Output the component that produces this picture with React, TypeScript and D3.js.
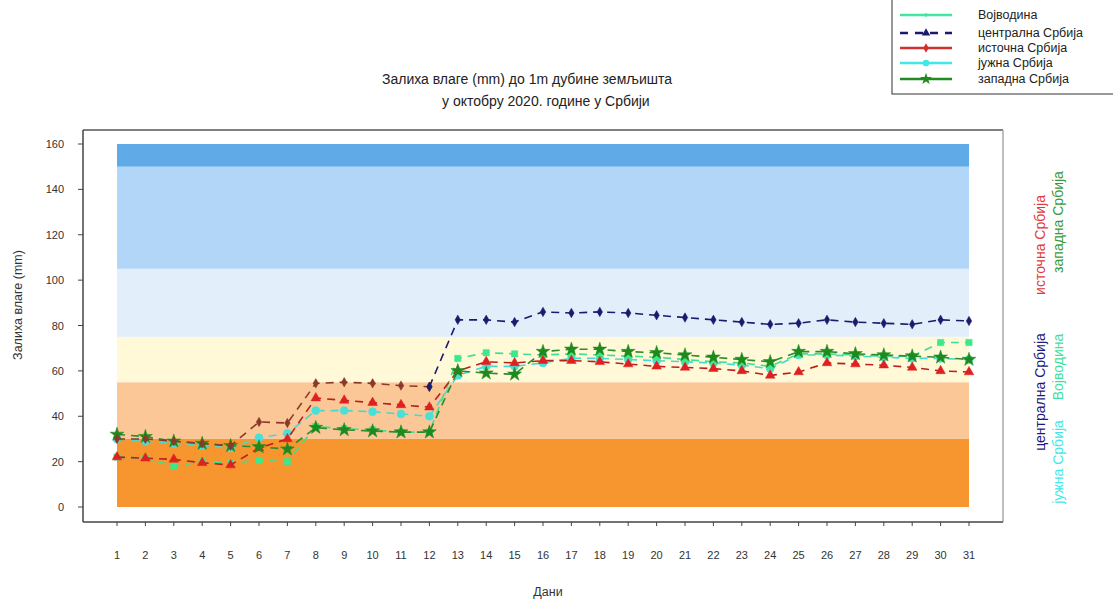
import React from "react";
import * as d3 from "d3";

const days = d3.range(1, 32);
const yTicks = [0, 20, 40, 60, 80, 100, 120, 140, 160];

const central = [30, 30, 29, 28, 27, 37.5, 37, 54.5, 55, 54.5, 53.5, 53, 82.5, 82.5, 81.5, 86, 85.5, 86, 85.5, 84.5, 83.5, 82.5, 81.5, 80.5, 81, 82.5, 81.5, 81, 80.5, 82.5, 82];
const east = [22, 21.5, 21, 19.5, 18.5, 26, 30, 48, 47, 46, 45, 44, 60, 64, 63.5, 64.5, 64.5, 64, 63, 62, 61.5, 61, 60, 58, 59.5, 63.5, 63, 62.5, 61.5, 60, 59.5];
const south = [30, 29, 28, 27, 26, 30.5, 32.5, 42.5, 42.5, 42, 41, 40, 58, 62, 62, 63.5, 65.5, 65.5, 65, 64.5, 64, 63.5, 62.5, 61, 67, 67, 66.5, 66, 65.5, 65.5, 65];
const vojvodina = [22, 21.5, 18, 20, 19.5, 20.5, 20, 35.5, 34.5, 34, 33, 33, 65.5, 68, 67.5, 67, 67.5, 67, 66.5, 66, 65, 64, 63.5, 62, 67.5, 67.5, 67, 66.5, 66.5, 72.5, 72.5];
const west = [32, 31, 29, 28, 27, 26.5, 25.5, 35, 34, 33.5, 33, 33, 60, 59, 58.5, 68.5, 69.5, 69.5, 68.5, 68, 67, 66, 65, 64, 68.5, 68.5, 67.5, 67, 66.5, 66, 65];

const bandLow = [0, 30, 55, 75, 105, 150];
const bandHigh = [30, 55, 75, 105, 150, 160];
const bandColors = ["#F7962E", "#FBC796", "#FFF9D8", "#E2EFFB", "#B2D6F7", "#60AAE8"];

const legendNames = ["Војводина", "централна Србија", "источна Србија", "јужна Србија", "западна Србија"];

const FONT = "Arial, 'Liberation Sans', sans-serif";

const x = d3.scaleLinear().domain([1, 31]).range([117, 969]);
const y = d3.scaleLinear().domain([0, 160]).range([507, 144]);

function sym(type: d3.SymbolType, size: number) {
  return d3.symbol().type(type).size(size)() as string;
}

function Series({ data, stroke, fill, type, size, from = 0, to = 31, dash = "8,6", width = 1.6 }: any) {
  const line = d3
    .line<number>()
    .x((_, i) => x(days[from + i]))
    .y((d) => y(d));
  const seg = data.slice(from, to);
  return (
    <g>
      <path d={line(seg) as string} fill="none" stroke={stroke} strokeWidth={width} strokeDasharray={dash} />
      {seg.map((v: number, i: number) => (
        <path key={i} d={sym(type, size)} transform={`translate(${x(days[from + i])},${y(v)})`} fill={fill} stroke={fill} strokeWidth={0.5} />
      ))}
    </g>
  );
}

export default function App() {
  const legendY = [15, 33, 48, 63, 79];
  const legendStyles = [
    { stroke: "#3EE8A0", dash: "", type: d3.symbolCircle, size: 10, fill: "#3EE8A0" },
    { stroke: "#1A1A6E", dash: "8,7", type: d3.symbolTriangle, size: 30, fill: "#1A1A6E" },
    { stroke: "#D03030", dash: "", type: d3.symbolDiamond, size: 25, fill: "#D03030" },
    { stroke: "#40E8E8", dash: "", type: d3.symbolCircle, size: 35, fill: "#40E8E8" },
    { stroke: "#228B22", dash: "", type: d3.symbolStar, size: 45, fill: "#228B22" },
  ];
  return (
    <svg width={1113} height={601} style={{ position: "absolute", left: 0, top: 0, background: "#fff" }} fontFamily={FONT}>
      {/* legend */}
      <rect x={892} y={-2} width={230} height={96} fill="#fff" stroke="#333" strokeWidth={1} />
      {legendNames.map((n, i) => (
        <g key={n}>
          <line x1={900} x2={952} y1={legendY[i]} y2={legendY[i]} stroke={legendStyles[i].stroke} strokeWidth={2.5} strokeDasharray={legendStyles[i].dash} />
          <path d={sym(legendStyles[i].type, legendStyles[i].size)} transform={`translate(926,${legendY[i]})`} fill={legendStyles[i].fill} />
          <text x={978} y={legendY[i] + 4} fontSize={12.5} fill="#222">{n}</text>
        </g>
      ))}

      {/* title */}
      <text x={382} y={84} fontSize={14} fill="#222">Залиха влаге (mm) до 1m дубине земљишта</text>
      <text x={442} y={106} fontSize={14} fill="#222">у октобру 2020. године у Србији</text>

      {/* frame */}
      <line x1={83} x2={1003} y1={130} y2={130} stroke="#555" strokeWidth={1.5} />
      <line x1={1003} x2={1003} y1={130} y2={522} stroke="#aaa" strokeWidth={1.5} />
      <line x1={83} x2={1003} y1={522} y2={522} stroke="#444" strokeWidth={1.5} />
      <line x1={83} x2={83} y1={130} y2={522} stroke="#444" strokeWidth={1.5} />

      {/* bands */}
      {bandLow.map((lo, i) => (
        <rect key={i} x={x(1)} width={x(31) - x(1)} y={y(bandHigh[i])} height={y(lo) - y(bandHigh[i])} fill={bandColors[i]} />
      ))}

      {/* y axis ticks */}
      {yTicks.map((t) => (
        <g key={t}>
          <line x1={78} x2={83} y1={y(t)} y2={y(t)} stroke="#444" />
          <text x={64} y={y(t) + 4} fontSize={11} textAnchor="end" fill="#333">{t}</text>
        </g>
      ))}
      {/* x axis ticks */}
      {days.map((d) => (
        <g key={d}>
          <line x1={x(d)} x2={x(d)} y1={522} y2={526} stroke="#444" />
          <text x={x(d)} y={559} fontSize={11} textAnchor="middle" fill="#333">{d}</text>
        </g>
      ))}
      <text transform="translate(22,305) rotate(-90)" fontSize={12.5} textAnchor="middle" fill="#333">Залиха влаге (mm)</text>
      <text x={548} y={596} fontSize={12.5} textAnchor="middle" fill="#333">Дани</text>

      {/* series */}
      <Series data={south} stroke="#48D8D0" fill="#48E0D8" type={d3.symbolCircle} size={50} />
      <Series data={vojvodina} stroke="#3CE090" fill="#3CE88C" type={d3.symbolSquare} size={40} />
      <Series data={east} stroke="#B82020" fill="#E02020" type={d3.symbolTriangle} size={40} />
      <Series data={west} stroke="#2E8B2E" fill="#1E8A1E" type={d3.symbolStar} size={60} />
      <Series data={central} stroke="#8B3A2A" fill="#8B3A2A" type={d3.symbolDiamond} size={26} from={0} to={12} />
      <Series data={central} stroke="#1A1A6E" fill="#1A1A6E" type={d3.symbolDiamond} size={26} from={11} to={31} />

      {/* right vertical labels */}
      <text transform="translate(1040,392) rotate(-90)" fontSize={14} textAnchor="middle" dominantBaseline="central" fill="#1A1A80">централна Србија</text>
      <text transform="translate(1040,245) rotate(-90)" fontSize={14} textAnchor="middle" dominantBaseline="central" fill="#E03A3A">источна Србија</text>
      <text transform="translate(1058,222) rotate(-90)" fontSize={14} textAnchor="middle" dominantBaseline="central" fill="#3A9A3A">западна Србија</text>
      <text transform="translate(1058,367) rotate(-90)" fontSize={14} textAnchor="middle" dominantBaseline="central" fill="#40E0A0">Војводина</text>
      <text transform="translate(1058,462) rotate(-90)" fontSize={14} textAnchor="middle" dominantBaseline="central" fill="#40E8E8">јужна Србија</text>
    </svg>
  );
}
